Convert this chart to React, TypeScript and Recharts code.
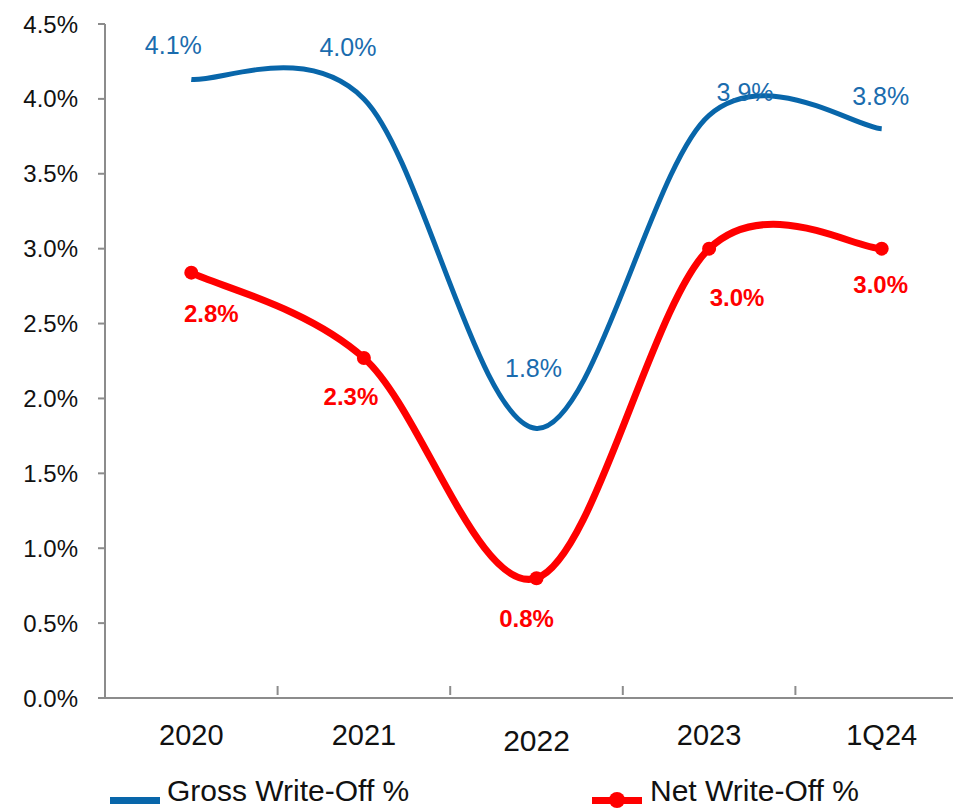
import React from 'react';
import { LineChart, Line, XAxis, YAxis, LabelList } from 'recharts';

const categories = ['2020', '2021', '2022', '2023', '1Q24'];
const grossWriteOff = [4.13, 4.0, 1.8, 3.89, 3.8];
const netWriteOff = [2.84, 2.27, 0.8, 3.0, 3.0];
const yTicks = [0, 0.5, 1, 1.5, 2, 2.5, 3, 3.5, 4, 4.5];
const grossLabels = ['4.1%', '4.0%', '1.8%', '3.9%', '3.8%'];
const netLabels = ['2.8%', '2.3%', '0.8%', '3.0%', '3.0%'];

// label nudges (px) to sit roughly where the original puts them
const grossLabelShift = [[-18, -34], [-16, -52], [-3, -60], [36, -23], [-1, -33]];
const netLabelShift = [[20, 41], [-13, 38], [-10, 40], [28, 49], [-1, 36]];

const chartData = categories.map((c, i) => ({
    name: c,
    gross: grossWriteOff[i],
    net: netWriteOff[i],
}));

const BLUE = '#0866AA';
const RED = '#FF0000';
const AXIS = '#8C8C8C';
const BAND = 172.6;
const FONT = "'Liberation Sans', Arial, sans-serif";

// Excel-like smoothed line (catmull-rom style bezier)
const excelCurve = (context: any) => {
    let pts: number[][] = [];
    return {
        areaStart() {},
        areaEnd() {},
        lineStart() { pts = []; },
        point(x: number, y: number) { pts.push([+x, +y]); },
        lineEnd() {
            const n = pts.length;
            if (!n) return;
            context.moveTo(pts[0][0], pts[0][1]);
            for (let i = 0; i < n - 1; i++) {
                const p0 = pts[Math.max(i - 1, 0)];
                const p1 = pts[i];
                const p2 = pts[i + 1];
                const p3 = pts[Math.min(i + 2, n - 1)];
                context.bezierCurveTo(
                    p1[0] + (p2[0] - p0[0]) / 6, p1[1] + (p2[1] - p0[1]) / 6,
                    p2[0] - (p3[0] - p1[0]) / 6, p2[1] - (p3[1] - p1[1]) / 6,
                    p2[0], p2[1]
                );
            }
        },
    };
};

const XTick = (props: any) => {
    const { x, y, payload, index } = props;
    return (
        <g>
            <line x1={x - BAND / 2} y1={y - 20} x2={x - BAND / 2} y2={y - 11} stroke={AXIS} strokeWidth={2} />
            <text
                x={x}
                y={y + 29 + (index === 2 ? 5 : 0)}
                textAnchor="middle"
                dominantBaseline="central"
                fontSize={index === 2 ? 30 : 29}
                fontFamily={FONT}
                fill="#111"
            >
                {payload.value}
            </text>
        </g>
    );
};

const makeLabel = (texts: string[], shifts: number[][], color: string, bold: boolean) => (props: any) => {
    const { x, y, index } = props;
    return (
        <text
            x={x + shifts[index][0]}
            y={y + shifts[index][1]}
            textAnchor="middle"
            dominantBaseline="central"
            fontSize={bold ? 24 : 25}
            fontWeight={bold ? 700 : 400}
            fontFamily={FONT}
            fill={color}
        >
            {texts[index]}
        </text>
    );
};

const App: React.FC = () => {
    return (
        <div style={{ position: 'relative', width: 953, height: 808, overflow: 'hidden', background: '#fff' }}>
            <style>{'body{margin:0}'}</style>
            <LineChart
                width={1000}
                height={808}
                data={chartData}
                margin={{ top: 24, right: 32, left: 0, bottom: 0 }}
            >
                <YAxis
                    domain={[0, 4.5]}
                    ticks={yTicks}
                    interval={0}
                    width={105}
                    tickFormatter={(v: number) => `${v.toFixed(1)}%`}
                    tickSize={7}
                    tickMargin={20}
                    axisLine={{ stroke: AXIS, strokeWidth: 2 }}
                    tickLine={{ stroke: AXIS, strokeWidth: 2 }}
                    tick={{ fill: '#111', fontSize: 24, fontFamily: FONT }}
                />
                <XAxis
                    dataKey="name"
                    height={110}
                    interval={0}
                    padding={{ left: BAND / 2, right: BAND / 2 }}
                    tickLine={false}
                    axisLine={{ stroke: AXIS, strokeWidth: 2 }}
                    tick={<XTick />}
                />
                <Line
                    dataKey="gross"
                    type={excelCurve as any}
                    stroke={BLUE}
                    strokeWidth={5}
                    dot={false}
                    activeDot={false}
                    isAnimationActive={false}
                >
                    <LabelList dataKey="gross" content={makeLabel(grossLabels, grossLabelShift, '#1A6CAE', false)} />
                </Line>
                <Line
                    dataKey="net"
                    type={excelCurve as any}
                    stroke={RED}
                    strokeWidth={7}
                    dot={{ r: 7, fill: RED, stroke: RED, strokeWidth: 0 }}
                    activeDot={false}
                    isAnimationActive={false}
                >
                    <LabelList dataKey="net" content={makeLabel(netLabels, netLabelShift, RED, true)} />
                </Line>
            </LineChart>
            <span style={{ position: 'absolute', left: 110, top: 797, width: 50, height: 7, background: BLUE }} />
            <span style={{ position: 'absolute', left: 167, top: 774, fontFamily: FONT, fontSize: 30, color: '#111', whiteSpace: 'nowrap' }}>
                Gross Write-Off %
            </span>
            <span style={{ position: 'absolute', left: 592, top: 797, width: 50, height: 7, background: RED }} />
            <span style={{ position: 'absolute', left: 609, top: 792, width: 16, height: 16, borderRadius: 8, background: RED }} />
            <span style={{ position: 'absolute', left: 650, top: 774, fontFamily: FONT, fontSize: 30, color: '#111', whiteSpace: 'nowrap' }}>
                Net Write-Off %
            </span>
        </div>
    );
};

export default App;
